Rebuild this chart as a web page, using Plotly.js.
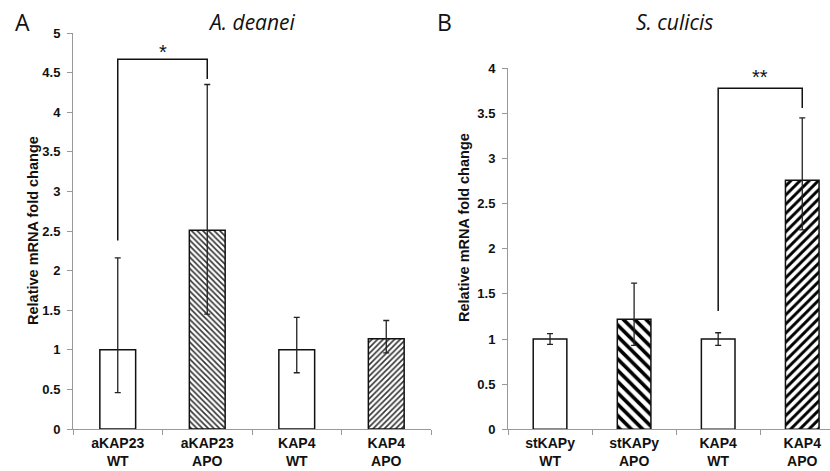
<!DOCTYPE html>
<html>
<head>
<meta charset="utf-8">
<script src="https://cdn.plot.ly/plotly-3.0.1.min.js"></script>
<style>html,body{margin:0;padding:0;background:#fff;}#chart{width:830px;height:471px;}</style>
</head>
<body>
<div id="chart"></div>
<script>
// Panel A: A. deanei
const catsA = ['aKAP23<br>WT', 'aKAP23<br>APO', 'KAP4<br>WT', 'KAP4<br>APO'];
const valsA = [1, 2.51, 1, 1.14];
const errUpA = [1.16, 1.84, 0.41, 0.23];
const errDnA = [0.54, 1.06, 0.29, 0.18];
const hatchA = ['', '\\', '', '/'];

// Panel B: S. culicis
const catsB = ['stKAPy<br>WT', 'stKAPy<br>APO', 'KAP4<br>WT', 'KAP4<br>APO'];
const valsB = [1, 1.22, 1, 2.76];
const errUpB = [0.06, 0.40, 0.07, 0.69];
const errDnB = [0.06, 0.29, 0.07, 0.55];
const hatchB = ['', '\\', '', '/'];

// Significance brackets (from-category index, to-category index, left foot, top, right foot)
const bracketA = {from: 0, to: 1, leftFoot: 2.38, top: 4.67, rightFoot: 4.42, label: '*'};
const bracketB = {from: 2, to: 3, leftFoot: 1.31, top: 3.78, rightFoot: 3.56, label: '**'};

const titleA = 'A. deanei';
const titleB = 'S. culicis';
const yTitle = 'Relative mRNA fold change';

const W = 830, H = 471;
const px = v => v / W;
const py = v => 1 - v / H;

const FONT = '"Liberation Sans", Arial, sans-serif';
const TFONT = '"Open Sans", sans-serif';
const AXIS_GRAY = '#999999';

function barTrace(cats, vals, up, dn, hatch, xa, ya, pSize, pSolid, pColor) {
  return {
    type: 'bar', x: cats, y: vals, xaxis: xa, yaxis: ya, width: 0.4,
    marker: {
      color: 'white',
      line: {color: '#111', width: 1.5},
      pattern: {shape: hatch, size: pSize, solidity: pSolid, fgcolor: pColor, bgcolor: 'white', fillmode: 'replace'}
    },
    error_y: {type: 'data', symmetric: false, array: up, arrayminus: dn, color: '#222', thickness: 1.3, width: 3},
    showlegend: false, hoverinfo: 'x+y'
  };
}

function bracketTrace(cats, b, xa, ya) {
  return {
    type: 'scatter', mode: 'lines', xaxis: xa, yaxis: ya,
    x: [cats[b.from], cats[b.from], cats[b.to], cats[b.to]],
    y: [b.leftFoot, b.top, b.top, b.rightFoot],
    line: {color: '#111', width: 1.5},
    showlegend: false, hoverinfo: 'skip'
  };
}

const data = [
  barTrace(catsA, valsA, errUpA, errDnA, hatchA, 'x', 'y', 4, 0.4, '#333'),
  barTrace(catsB, valsB, errUpB, errDnB, hatchB, 'x2', 'y2', [7, 8, 7, 6.5], 0.45, '#000'),
  bracketTrace(catsA, bracketA, 'x', 'y'),
  bracketTrace(catsB, bracketB, 'x2', 'y2')
];

const xaxisBase = {
  type: 'category', showline: true, linecolor: AXIS_GRAY, linewidth: 1,
  ticks: 'outside', tickson: 'boundaries', ticklen: 5, tickcolor: AXIS_GRAY,
  ticklabelstandoff: 1,
  showgrid: false, zeroline: false, fixedrange: true,
  tickfont: {family: FONT, size: 14, color: '#111', weight: 'bold'}
};
const yaxisBase = {
  showline: true, linecolor: AXIS_GRAY, linewidth: 1,
  ticks: 'outside', ticklen: 5, tickcolor: AXIS_GRAY, dtick: 0.5,
  ticklabelstandoff: 4,
  showgrid: false, zeroline: false, fixedrange: true,
  tickfont: {family: FONT, size: 13, color: '#111', weight: 'bold'}
};

function ann(text, x, y, font, extra) {
  return Object.assign({text: text, xref: 'paper', yref: 'paper', x: x, y: y,
    xanchor: 'center', yanchor: 'middle', showarrow: false, font: font}, extra || {});
}

const layout = {
  width: W, height: H,
  margin: {l: 0, r: 0, t: 0, b: 0},
  paper_bgcolor: 'white', plot_bgcolor: 'white',
  bargap: 0.6,
  xaxis: Object.assign({}, xaxisBase, {domain: [px(73), px(431)], range: [-0.5, 3.5], anchor: 'y'}),
  yaxis: Object.assign({}, yaxisBase, {domain: [py(429), py(33)], range: [0, 5], anchor: 'x'}),
  xaxis2: Object.assign({}, xaxisBase, {domain: [px(508), 1], range: [-0.5, 3.33], anchor: 'y2'}),
  yaxis2: Object.assign({}, yaxisBase, {domain: [py(429.3), py(68.3)], range: [0, 4], anchor: 'x2'}),
  annotations: [
    ann(titleA, px(252), py(22), {family: TFONT, size: 21, style: 'italic', color: '#111'}),
    ann(titleB, px(674), py(22), {family: TFONT, size: 21, style: 'italic', color: '#111'}),
    ann('A', px(22), py(22), {family: TFONT, size: 23, color: '#111'}),
    ann('B', px(444), py(22), {family: TFONT, size: 23, color: '#111'}),
    ann(yTitle, px(33), py(231), {family: FONT, size: 14.5, color: '#111', weight: 'bold'}, {textangle: -90}),
    ann(yTitle, px(464), py(228), {family: FONT, size: 14.5, color: '#111', weight: 'bold'}, {textangle: -90}),
    {text: bracketA.label, xref: 'x', yref: 'y', x: (bracketA.from + bracketA.to) / 2, y: bracketA.top,
     xanchor: 'center', yanchor: 'bottom', yshift: -6, showarrow: false, font: {family: FONT, size: 20, color: '#111'}},
    {text: bracketB.label, xref: 'x2', yref: 'y2', x: (bracketB.from + bracketB.to) / 2, y: bracketB.top,
     xanchor: 'center', yanchor: 'bottom', yshift: -2, showarrow: false, font: {family: FONT, size: 20, color: '#111'}}
  ]
};

Plotly.newPlot('chart', data, layout, {displayModeBar: false, staticPlot: true});
</script>
</body>
</html>
